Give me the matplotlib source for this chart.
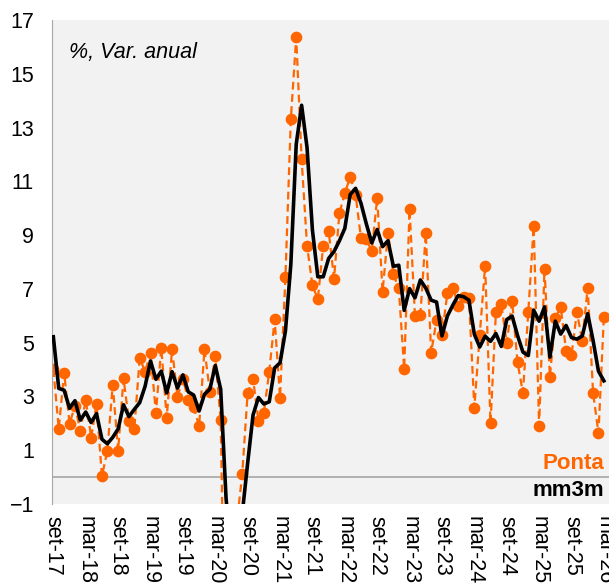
import matplotlib
matplotlib.use("Agg")
from matplotlib import pyplot as plt
import numpy as np

plt.rcParams["font.family"] = ["Liberation Sans", "DejaVu Sans"]

# monthly, set-17 .. mar-26
ponta = [4.01, 1.80, 3.89, 1.99, 2.64, 1.73, 2.88, 1.47, 2.72, 0.04,
         0.97, 3.43, 0.98, 3.67, 2.10, 1.79, 4.43, 3.92, 4.62, 2.39,
         4.81, 2.20, 4.75, 2.99, 3.66, 2.87, 2.61, 1.89, 4.75, 3.18,
         4.51, 2.12, -9.0, -2.5, -1.7, 0.12, 3.14, 3.66, 2.09, 2.40,
         3.92, 5.87, 2.96, 7.45, 13.32, 16.36, 11.82, 8.61, 7.13, 6.62,
         8.61, 9.17, 7.38, 9.81, 10.55, 11.17, 10.50, 8.88, 8.84, 8.41,
         10.39, 6.90, 9.09, 7.54, 7.02, 4.03, 9.97, 6.00, 6.03, 9.07,
         4.63, 5.84, 5.29, 6.83, 7.05, 6.38, 6.71, 6.65, 2.58, 5.29,
         7.86, 2.00, 6.15, 6.44, 4.98, 6.55, 4.27, 3.14, 6.15, 9.34,
         1.90, 7.74, 3.74, 5.91, 6.32, 4.70, 4.54, 6.14, 5.06, 7.05,
         3.14, 1.63, 5.97]
mm3m = [5.22, 3.30, 3.23, 2.56, 2.84, 2.12, 2.42, 2.03, 2.36, 1.41,
        1.24, 1.48, 1.79, 2.69, 2.25, 2.52, 2.77, 3.38, 4.32, 3.64,
        3.94, 3.13, 3.92, 3.31, 3.80, 3.17, 3.05, 2.46, 3.08, 3.27,
        4.15, 3.27, -0.79, -3.13, -4.40, -1.36, 0.52, 2.31, 2.96, 2.72,
        2.80, 4.06, 4.25, 5.43, 7.91, 12.38, 13.83, 12.26, 9.19, 7.45,
        7.45, 8.13, 8.39, 8.79, 9.25, 10.51, 10.74, 10.18, 9.41, 8.71,
        9.21, 8.57, 8.79, 7.84, 7.88, 6.20, 7.01, 6.67, 7.33, 7.03,
        6.58, 6.51, 5.25, 5.99, 6.39, 6.75, 6.71, 6.58, 5.31, 4.84,
        5.24, 5.05, 5.34, 4.86, 5.86, 5.99, 5.27, 4.65, 4.52, 6.21,
        5.80, 6.33, 4.46, 5.80, 5.32, 5.64, 5.19, 5.13, 5.25, 6.08,
        5.08, 3.94, 3.58]
tick_labels = ["set-17", "mar-18", "set-18", "mar-19", "set-19", "mar-20",
               "set-20", "mar-21", "set-21", "mar-22", "set-22", "mar-23",
               "set-23", "mar-24", "set-24", "mar-25", "set-25", "mar-26"]

orange = "#ff6600"
x = np.arange(len(ponta))

fig = plt.figure(figsize=(6.09, 5.88), dpi=100)
ax = fig.add_axes([52 / 609, 84 / 588, 1 - 52 / 609, 484 / 588])
ax.set_facecolor("#f2f2f2")

ax.axhline(0, color="#a6a6a6", lw=1.2, zorder=1)
ax.plot(x, ponta, color=orange, ls="--", lw=1.6, marker="o", ms=7.4,
        dashes=(3.5, 2), zorder=2)
ax.plot(x, mm3m, color="black", lw=2.6, zorder=3)

ax.set_ylim(-1, 17)
ax.set_yticks(np.arange(-1, 18, 2))
ax.set_xlim(-0.25, 102.95)
ax.set_xticks(np.arange(0, len(ponta), 6))
ax.set_xticklabels(tick_labels, rotation=-90)

for s in ["top", "right", "bottom"]:
    ax.spines[s].set_visible(False)
ax.spines["left"].set_color("#a6a6a6")
ax.tick_params(axis="both", length=0, labelsize=15.5)
ax.tick_params(axis="y", pad=13)
ax.tick_params(axis="x", pad=9)

ax.text(0.03, 0.955, "%, Var. anual", transform=ax.transAxes, fontsize=15.5,
        style="italic", va="top", ha="left")
ax.text(102.1, 0.30, "Ponta", color=orange, fontsize=16, fontweight="bold",
        ha="right", va="baseline")
ax.text(102.1, -0.70, "mm3m", color="black", fontsize=16, fontweight="bold",
        ha="right", va="baseline")

fig.savefig("out.png", dpi=100)
